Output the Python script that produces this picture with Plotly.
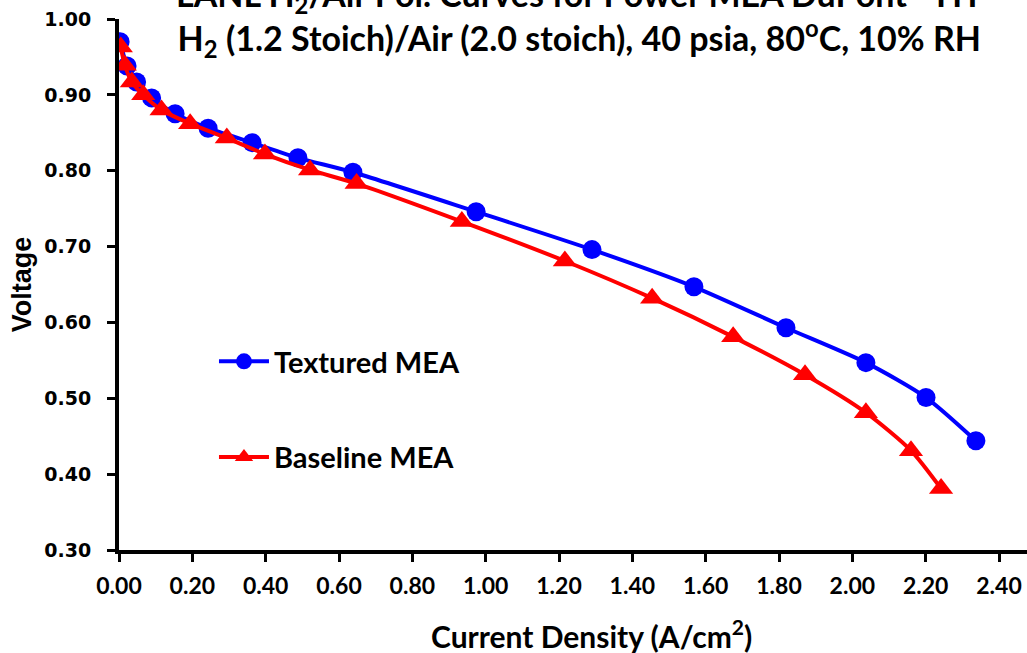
import plotly.graph_objects as go

# Data
textured_x = [0.003, 0.022, 0.048, 0.089, 0.153, 0.243, 0.363, 0.488, 0.638,
              0.974, 1.290, 1.568, 1.819, 2.037, 2.201, 2.337]
textured_v = [0.970, 0.938, 0.917, 0.896, 0.875, 0.856, 0.837, 0.817, 0.798,
              0.746, 0.696, 0.647, 0.593, 0.547, 0.501, 0.444]

baseline_x = [0.005, 0.016, 0.035, 0.066, 0.116, 0.194, 0.294, 0.398, 0.521,
              0.648, 0.935, 1.216, 1.454, 1.675, 1.871, 2.037, 2.160, 2.242]
baseline_v = [0.963, 0.939, 0.917, 0.900, 0.880, 0.862, 0.843, 0.822, 0.801,
              0.783, 0.733, 0.681, 0.632, 0.581, 0.531, 0.481, 0.431, 0.381]

x_ticks = [0.0, 0.2, 0.4, 0.6, 0.8, 1.0, 1.2, 1.4, 1.6, 1.8, 2.0, 2.2, 2.4]
y_ticks = [0.3, 0.4, 0.5, 0.6, 0.7, 0.8, 0.9, 1.0]

title_text = ("LANL H<sub>2</sub>/Air Pol. Curves for Power MEA DuPont - HT<br>"
              "H<sub>2</sub> (1.2 Stoich)/Air (2.0 stoich), 40 psia, 80<sup>o</sup>C, 10% RH")
x_title = "Current Density (A/cm<sup>2</sup>)"

fig = go.Figure()
fig.add_trace(go.Scatter(
    x=textured_x, y=textured_v, name="Textured MEA", legendgroup="a",
    mode="lines+markers",
    line=dict(color="#0000FF", width=4, shape="spline", smoothing=0.7),
    marker=dict(symbol="circle", size=19, color="#0000FF"),
))
fig.add_trace(go.Scatter(
    x=baseline_x, y=baseline_v, name="Baseline MEA", legendgroup="b",
    mode="lines+markers",
    line=dict(color="#FF0000", width=4, shape="spline", smoothing=0.7),
    marker=dict(symbol="triangle-up", size=21, color="#FF0000"),
))

fig.update_layout(
    width=1027, height=653,
    margin=dict(l=119, r=0, t=19, b=103),
    paper_bgcolor="white", plot_bgcolor="white",
    showlegend=True,
    legend=dict(
        x=0.1046, y=0.403, xanchor="left", yanchor="top",
        font=dict(family="Lato", size=29, color="black", weight="bold"),
        tracegroupgap=55, traceorder="grouped",
        bgcolor="rgba(0,0,0,0)", itemwidth=50,
    ),
    annotations=[
        dict(
            text=title_text, xref="paper", yref="paper",
            x=0.5077, y=(550 - 18) / 531, xanchor="center", yanchor="middle",
            showarrow=False, align="center",
            font=dict(family="Lato", size=34, color="black", weight="bold"),
        ),
        dict(
            text=x_title, xref="paper", yref="paper",
            x=(591 - 119) / 908, y=-(634 - 550) / 531,
            xanchor="center", yanchor="middle", showarrow=False,
            font=dict(family="Lato", size=30, color="black", weight="bold"),
        ),
    ],
)

fig.update_xaxes(
    range=[0, (1027 - 119) / (880 / 2.4)],
    tickvals=x_ticks, tickformat=".2f",
    showgrid=False, zeroline=False,
    showline=True, linecolor="black", linewidth=4,
    ticks="outside", ticklen=8, tickwidth=3, tickcolor="black",
    tickfont=dict(family="Lato", size=23, color="black", weight="bold"),
    ticklabelstandoff=4,
)
fig.update_yaxes(
    range=[0.3, 1.0],
    tickvals=y_ticks, tickformat=".2f",
    showgrid=False, zeroline=False,
    showline=True, linecolor="black", linewidth=4,
    ticks="outside", ticklen=8, tickwidth=3, tickcolor="black",
    tickfont=dict(family="DejaVu Sans", size=19, color="black", weight="bold"),
    ticklabelstandoff=12,
    title=dict(text="Voltage", standoff=6,
               font=dict(family="Liberation Sans", size=27, color="black", weight="bold")),
)

fig.write_html("out.html")
